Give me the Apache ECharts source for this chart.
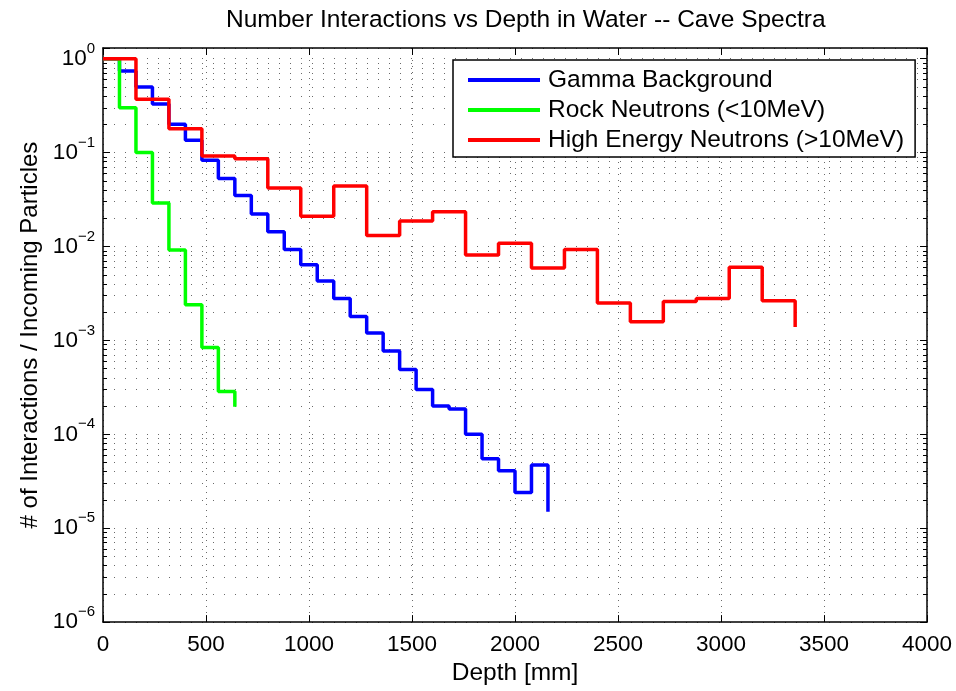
<!DOCTYPE html>
<html>
<head>
<meta charset="utf-8">
<script src="https://cdn.jsdelivr.net/npm/echarts@6/dist/echarts.min.js"></script>
<style>
html,body{margin:0;padding:0;background:#fff;}
#chart{width:956px;height:691px;}
</style>
</head>
<body>
<div id="chart"></div>
<script>
// ---- data (step plots, value applies from depth to next depth) ----
const seriesNames = ['Gamma Background', 'Rock Neutrons (<10MeV)', 'High Energy Neutrons (>10MeV)'];

const gammaDepth = [0, 80, 160, 240, 320, 400, 480, 560, 640, 720, 800, 880, 960, 1040, 1120, 1200, 1280, 1360, 1440, 1520, 1600, 1680, 1760, 1840, 1920, 2000, 2080, 2160];
const gammaValues = [1.0, 0.74, 0.50, 0.33, 0.20, 0.135, 0.083, 0.053, 0.035, 0.0222, 0.0144, 0.0093, 0.0064, 0.0043, 0.0028, 0.0018, 0.0012, 0.00077, 0.00049, 0.00030, 0.00020, 0.000186, 0.00010, 0.000055, 0.000041, 0.000024, 0.000047, 0.000015];

const rockDepth = [0, 80, 160, 240, 320, 400, 480, 560, 640];
const rockValues = [1.0, 0.30, 0.10, 0.029, 0.0092, 0.0024, 0.00084, 0.000286, 0.000197];

const highDepth = [0, 160, 320, 480, 640, 800, 960, 1120, 1280, 1440, 1600, 1760, 1920, 2080, 2240, 2400, 2560, 2720, 2880, 3040, 3200, 3360];
const highValues = [1.0, 0.37, 0.18, 0.092, 0.086, 0.042, 0.021, 0.044, 0.0131, 0.0187, 0.0235, 0.0081, 0.0108, 0.0059, 0.0093, 0.0025, 0.00158, 0.0026, 0.0028, 0.0060, 0.00265, 0.00139];

const xTickValues = [0, 500, 1000, 1500, 2000, 2500, 3000, 3500, 4000];
const yTickExponents = [0, -1, -2, -3, -4, -5, -6];

const titleText = 'Number Interactions vs Depth in Water -- Cave Spectra';
const xName = 'Depth [mm]';
const yName = '# of Interactions / Incoming Particles';

// ---- build ----
const FONT = "'Liberation Sans', Arial, Helvetica, sans-serif";
function pairs(xs, ys) { return xs.map((x, i) => [x, ys[i]]); }

function yLabel(v) {
  const e = Math.log10(v);
  const r = Math.round(e);
  if (Math.abs(e - r) > 1e-6 || yTickExponents.indexOf(r) < 0) return '';
  const sup = r === 0 ? '0' : '\u2212' + Math.abs(r);
  return '{b|10}{s|' + sup + '}';
}
function xLabel(v) {
  return xTickValues.indexOf(v) >= 0 ? String(v) : '';
}

const gridDot = { color: '#6a6a6a', width: 1, type: [1, 10] };
const gridDotV = { color: '#6a6a6a', width: 1, type: [1, 5] };

const chart = echarts.init(document.getElementById('chart'), null, { renderer: 'canvas' });
chart.setOption({
  animation: false,
  backgroundColor: '#ffffff',
  textStyle: { fontFamily: FONT },
  title: {
    text: titleText,
    left: 226,
    top: 8,
    padding: 0,
    textStyle: { fontFamily: FONT, fontSize: 24.5, fontWeight: 'normal', color: '#000' }
  },
  grid: { left: 103, right: 29, top: 48, bottom: 65, containLabel: false },
  legend: {
    orient: 'vertical',
    left: 453,
    top: 60,
    data: seriesNames,
    icon: 'rect',
    itemWidth: 72,
    itemHeight: 4,
    itemGap: 4,
    padding: [7, 11, 4, 15],
    backgroundColor: '#fff',
    borderColor: '#000',
    borderWidth: 1.5,
    borderRadius: 0,
    textStyle: { fontFamily: FONT, fontSize: 24.5, lineHeight: 26, color: '#000', padding: [0, 0, 0, 3] }
  },
  xAxis: [
    {
      type: 'value', min: 0, max: 4000, interval: 500, position: 'bottom',
      name: xName, nameLocation: 'middle', nameGap: 38,
      nameTextStyle: { fontFamily: FONT, fontSize: 24.5, color: '#000' },
      axisLine: { show: true, onZero: false, lineStyle: { color: '#000', width: 1.5 } },
      axisTick: { show: true, inside: true, length: 7, lineStyle: { color: '#000', width: 1 } },
      axisLabel: { formatter: xLabel, fontFamily: FONT, fontSize: 22.5, color: '#000', margin: 11 },
      splitLine: { show: true, lineStyle: gridDotV }
    },
    {
      type: 'value', min: 0, max: 4000, interval: 500, position: 'top',
      axisLine: { show: true, onZero: false, lineStyle: { color: '#000', width: 1.5 } },
      axisTick: { show: true, inside: true, length: 7, lineStyle: { color: '#000', width: 1 } },
      axisLabel: { show: false },
      splitLine: { show: false }
    }
  ],
  yAxis: [
    {
      type: 'log', logBase: 10, min: 1e-6, max: 1.3, interval: 1, position: 'left',
      name: yName, nameLocation: 'middle', nameGap: 59, nameRotate: 90,
      nameTextStyle: { fontFamily: FONT, fontSize: 24, color: '#000' },
      axisLine: { show: true, onZero: false, lineStyle: { color: '#000', width: 1.5 } },
      axisTick: { show: true, inside: true, length: 7, lineStyle: { color: '#000', width: 1 } },
      minorTick: { show: true, splitNumber: 9, length: 4, lineStyle: { color: '#000', width: 1 } },
      axisLabel: {
        formatter: yLabel, margin: 8, color: '#000',
        rich: {
          b: { fontFamily: FONT, fontSize: 22.5, color: '#000' },
          s: { fontFamily: FONT, fontSize: 15, color: '#000', padding: [0, 0, 20, 0] }
        }
      },
      splitLine: { show: true, lineStyle: gridDot },
      minorSplitLine: { show: true, lineStyle: gridDot }
    },
    {
      type: 'log', logBase: 10, min: 1e-6, max: 1.3, interval: 1, position: 'right',
      axisLine: { show: true, onZero: false, lineStyle: { color: '#000', width: 1.5 } },
      axisTick: { show: true, inside: true, length: 7, lineStyle: { color: '#000', width: 1 } },
      minorTick: { show: true, splitNumber: 9, length: 4, lineStyle: { color: '#000', width: 1 } },
      axisLabel: { show: false },
      splitLine: { show: false }
    }
  ],
  series: [
    {
      name: seriesNames[0], type: 'line', step: 'end', xAxisIndex: 0, yAxisIndex: 0,
      data: pairs(gammaDepth, gammaValues), symbol: 'none', showSymbol: false,
      lineStyle: { color: '#0000ff', width: 3.5 }, itemStyle: { color: '#0000ff' }
    },
    {
      name: seriesNames[1], type: 'line', step: 'end', xAxisIndex: 0, yAxisIndex: 0,
      data: pairs(rockDepth, rockValues), symbol: 'none', showSymbol: false,
      lineStyle: { color: '#00ff00', width: 3.5 }, itemStyle: { color: '#00ff00' }
    },
    {
      name: seriesNames[2], type: 'line', step: 'end', xAxisIndex: 0, yAxisIndex: 0,
      data: pairs(highDepth, highValues), symbol: 'none', showSymbol: false,
      lineStyle: { color: '#ff0000', width: 3.5 }, itemStyle: { color: '#ff0000' }
    }
  ]
});
</script>
</body>
</html>
